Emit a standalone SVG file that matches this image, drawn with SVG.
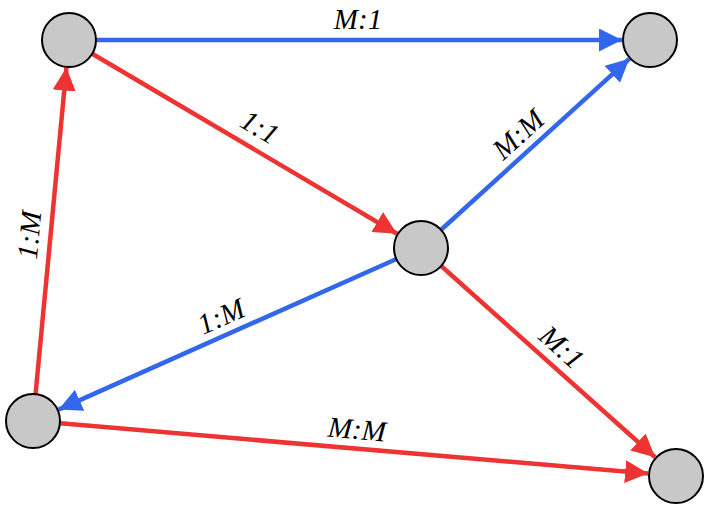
<svg xmlns="http://www.w3.org/2000/svg" width="710" height="510" viewBox="0 0 710 510">
<style>
.node{fill:#c8c8c8;stroke:#000;stroke-width:2}
.blue{stroke:#3366ee;stroke-width:4.5;fill:none}
.red{stroke:#ee3333;stroke-width:4.5;fill:none}
.lbl{font-family:"Liberation Serif",serif;font-style:italic;font-size:29px;fill:#000;text-anchor:middle;dominant-baseline:central}
</style>
<defs>
<marker id="ab" markerUnits="userSpaceOnUse" markerWidth="24" markerHeight="24" refX="23" refY="11.5" orient="auto"><path d="M0,0 L23,11.5 L0,23 Z" fill="#3366ee"/></marker>
<marker id="ar" markerUnits="userSpaceOnUse" markerWidth="24" markerHeight="24" refX="23" refY="11.5" orient="auto"><path d="M0,0 L23,11.5 L0,23 Z" fill="#ee3333"/></marker>
</defs>
<rect width="710" height="510" fill="#fff"/>
<g id="connectors">
<line class="blue" x1="96" y1="40" x2="622" y2="40" marker-end="url(#ab)"/>
<line class="red" x1="92.7" y1="54" x2="397" y2="233.7" marker-end="url(#ar)"/>
<line class="blue" x1="441.4" y1="229.5" x2="629.3" y2="58.8" marker-end="url(#ab)"/>
<line class="blue" x1="395.9" y1="259.2" x2="58.6" y2="409.6" marker-end="url(#ab)"/>
<line class="red" x1="441.5" y1="266.3" x2="655.1" y2="457.3" marker-end="url(#ar)"/>
<line class="red" x1="35.6" y1="393.6" x2="66.4" y2="67.6" marker-end="url(#ar)"/>
<line class="red" x1="60.4" y1="423.3" x2="648.1" y2="473.6" marker-end="url(#ar)"/>
<text class="lbl" x="358" y="19">M:1</text>
<text class="lbl" transform="translate(260,127) rotate(30.6)">1:1</text>
<text class="lbl" transform="translate(518,134) rotate(-42.2)">M:M</text>
<text class="lbl" transform="translate(221,316) rotate(-24)">1:M</text>
<text class="lbl" transform="translate(562,347) rotate(41.8)">M:1</text>
<text class="lbl" transform="translate(29,235) rotate(-84.6)">1:M</text>
<text class="lbl" transform="translate(357,429) rotate(4.9)">M:M</text>
</g>
<g id="nA"><circle class="node" cx="69" cy="40" r="27"/></g>
<g id="nB"><circle class="node" cx="650" cy="40" r="27"/></g>
<g id="nC"><circle class="node" cx="421" cy="248" r="27"/></g>
<g id="nD"><circle class="node" cx="33" cy="421" r="27"/></g>
<g id="nE"><circle class="node" cx="676" cy="476" r="27"/></g>
</svg>
